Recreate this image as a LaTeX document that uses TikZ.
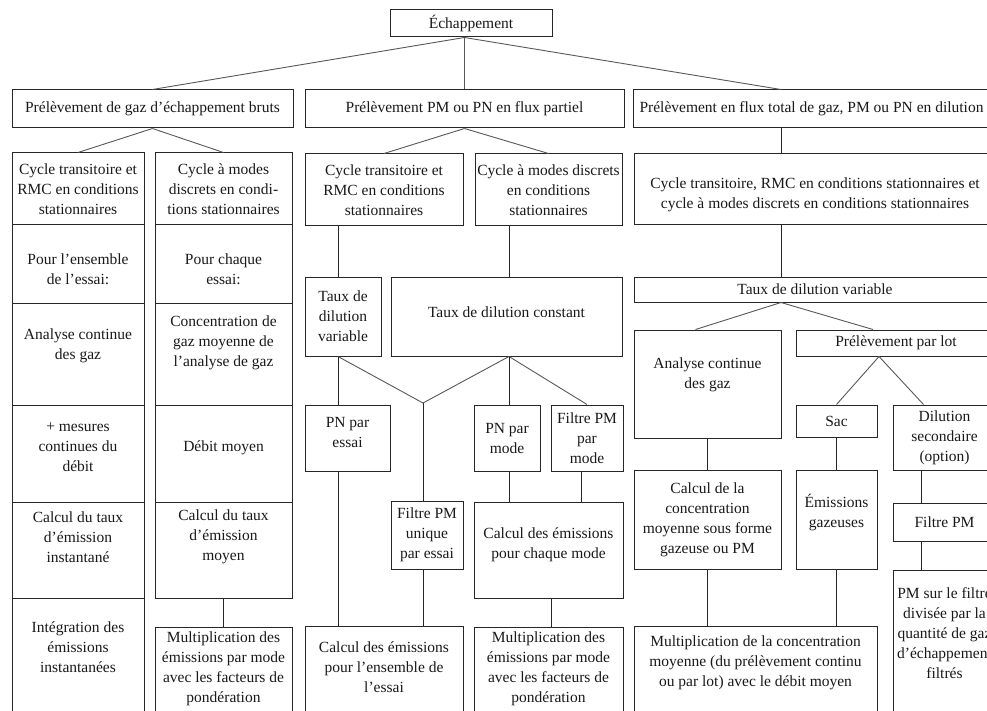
\documentclass[tikz,border=0pt]{standalone}
\usepackage{fontspec}
\setmainfont{Liberation Serif}
\tikzset{
  box/.style={draw=black!85, line width=1pt, inner sep=0pt, rectangle},
  txt/.style={align=center, font=\fontsize{15.5}{20}\selectfont, text=black!90, inner sep=0pt},
  conn/.style={draw=black!85, line width=1pt},
  diag/.style={draw=black!65, line width=0.9pt},
}
% #1 text yshift (pt, up), #2 name, #3 x1, #4 y1, #5 x2, #6 y2, #7 text
\newcommand\bx[7][0]{%
  \node[box, minimum width={(#5-#3)*1pt}, minimum height={(#6-#4)*1pt},
        label={[txt, yshift=#1pt]center:{#7}}] (#2) at ({(#3+#5)/2},{(#4+#6)/2}) {};}
\begin{document}
\begin{tikzpicture}[x=1pt,y=-1pt]
\useasboundingbox (0,0) rectangle (987,711);
\fill[white] (0,0) rectangle (987,711);
% axes for connectors
\coordinate (axC) at (781,0);
\coordinate (axC2) at (921,0);
\coordinate (axB1) at (338,0);
\coordinate (axB2) at (509,0);
\coordinate (axB4) at (581,0);
\coordinate (axB5) at (551,0);
\coordinate (vx) at (423,403);
% top
\bx{ech}{390}{10}{552}{37}{Échappement}
\bx{pA}{12}{90}{293}{128}{Prélèvement de gaz d’échappement bruts}
\bx{pB}{305}{90}{624}{128}{Prélèvement PM ou PN en flux partiel}
\bx{pC}{633}{90}{990}{128}{Prélèvement en flux total de gaz, PM ou PN en dilution}
% column A1
\bx{a11}{12}{153}{144}{225}{Cycle transitoire et\\RMC en conditions\\stationnaires}
\bx[-5]{a12}{12}{225}{144}{303}{Pour l’ensemble\\de l’essai:}
\bx[8]{a13}{12}{303}{144}{405}{Analyse continue\\des gaz}
\bx[6]{a14}{12}{405}{144}{502}{+ mesures\\continues du\\débit}
\bx[13]{a15}{12}{502}{144}{598}{Calcul du taux\\d’émission\\instantané}
\bx[14]{a16}{12}{598}{144}{725}{Intégration des\\émissions\\instantanées}
% column A2
\bx{a21}{155}{153}{292}{225}{Cycle à modes\\discrets en condi-\\tions stationnaires}
\bx[-5]{a22}{155}{225}{292}{303}{Pour chaque\\essai:}
\bx[11]{a23}{155}{303}{292}{405}{Concentration de\\gaz moyenne de\\l’analyse de gaz}
\bx[6]{a24}{155}{405}{292}{502}{Débit moyen}
\bx[13]{a25}{155}{502}{292}{598}{Calcul du taux\\d’émission\\moyen}
\bx[7]{a26}{155}{627}{292}{725}{Multiplication des\\émissions par mode\\avec les facteurs de\\pondération}
% B
\bx{b1}{305}{154}{463}{226}{Cycle transitoire et\\RMC en conditions\\stationnaires}
\bx{b2}{475}{154}{622}{226}{Cycle à modes discrets\\en conditions\\stationnaires}
\bx{b3}{305}{277}{381}{356}{Taux de\\dilution\\variable}
\bx[4]{b4}{391}{277}{622}{356}{Taux de dilution constant}
\bx[6]{b5}{305}{405}{390}{471}{PN par\\essai}
\bx{b6}{474}{405}{540}{471}{PN par\\mode}
\bx{b7}{551}{405}{623}{471}{Filtre PM\\par\\mode}
\bx{b8}{391}{501}{463}{569}{Filtre PM\\unique\\par essai}
\bx[5]{b9}{474}{502}{623}{598}{Calcul des émissions\\pour chaque mode}
\bx[8]{b10}{305}{626}{463}{725}{Calcul des émissions\\pour l’ensemble de\\l’essai}
\bx[7]{b11}{474}{627}{623}{725}{Multiplication des\\émissions par mode\\avec les facteurs de\\pondération}
% C
\bx[-5]{c1}{634}{154}{996}{225}{Cycle transitoire, RMC en conditions stationnaires et\\cycle à modes discrets en conditions stationnaires}
\bx{c2}{634}{277}{996}{302}{Taux de dilution variable}
\bx[9]{c3}{634}{330}{781}{438}{Analyse continue\\des gaz}
\bx{c4}{796}{330}{996}{356}{Prélèvement par lot}
\bx{c5}{796}{405}{877}{437}{Sac}
\bx{c6}{893}{405}{996}{470}{Dilution\\secondaire\\(option)}
\bx{c7}{634}{470}{781}{569}{Calcul de la\\concentration\\moyenne sous forme\\gazeuse ou PM}
\bx[7]{c8}{796}{470}{877}{569}{Émissions\\gazeuses}
\bx{c9}{893}{503}{996}{541}{Filtre PM}
\bx[14]{c10}{893}{570}{996}{725}{PM sur le filtre\\divisée par la\\quantité de gaz\\d’échappement\\filtrés}
\bx[13]{c11}{634}{626}{877}{725}{Multiplication de la concentration\\moyenne (du prélèvement continu\\ou par lot) avec le débit moyen}
% connectors: top
\draw[diag] (ech.south -| pB.north) -- (pA.north);
\draw[diag] (ech.south -| pB.north) -- (pB.north);
\draw[diag] (ech.south -| pB.north) -- (pC.north -| axC);
% A
\draw[diag] (pA.south) -- (a11.north);
\draw[diag] (pA.south) -- (a21.north);
\draw[conn] (a25.south) -- (a26.north);
% B
\draw[diag] (pB.south) -- (b1.north);
\draw[diag] (pB.south) -- (b2.north);
\draw[conn] (b1.south -| axB1) -- (b3.north -| axB1);
\draw[conn] (b2.south -| axB2) -- (b4.north -| axB2);
\draw[diag] (b3.south -| axB1) -- (vx) -- (b4.south -| axB2);
\draw[diag] (b4.south -| axB2) -- (b7.north);
\draw[conn] (b3.south -| axB1) -- (b5.north -| axB1);
\draw[conn] (b4.south -| axB2) -- (b6.north -| axB2);
\draw[conn] (vx) -- (b8.north -| vx);
\draw[conn] (b5.south -| axB1) -- (b10.north -| axB1);
\draw[conn] (b8.south -| vx) -- (b10.north -| vx);
\draw[conn] (b6.south -| axB2) -- (b9.north -| axB2);
\draw[conn] (b7.south -| axB4) -- (b9.north -| axB4);
\draw[conn] (b9.south -| axB5) -- (b11.north -| axB5);
% C
\draw[conn] (pC.south -| axC) -- (c1.north -| axC);
\draw[conn] (c1.south -| axC) -- (c2.north -| axC);
\draw[diag] (c2.south -| axC) -- ([xshift=-12pt]c3.north);
\draw[diag] (c2.south -| axC) -- ([xshift=-23pt]c4.north);
\draw[diag] ([xshift=-17pt]c4.south) -- (c5.north);
\draw[diag] ([xshift=-17pt]c4.south) -- ([xshift=-21pt]c6.north);
\draw[conn] (c3.south) -- (c7.north);
\draw[conn] (c5.south) -- (c8.north);
\draw[conn] (c6.south -| axC2) -- (c9.north -| axC2);
\draw[conn] (c9.south -| axC2) -- (c10.north -| axC2);
\draw[conn] (c7.south) -- (c11.north -| c7.south);
\draw[conn] (c8.south) -- (c11.north -| c8.south);
\end{tikzpicture}
\end{document}
